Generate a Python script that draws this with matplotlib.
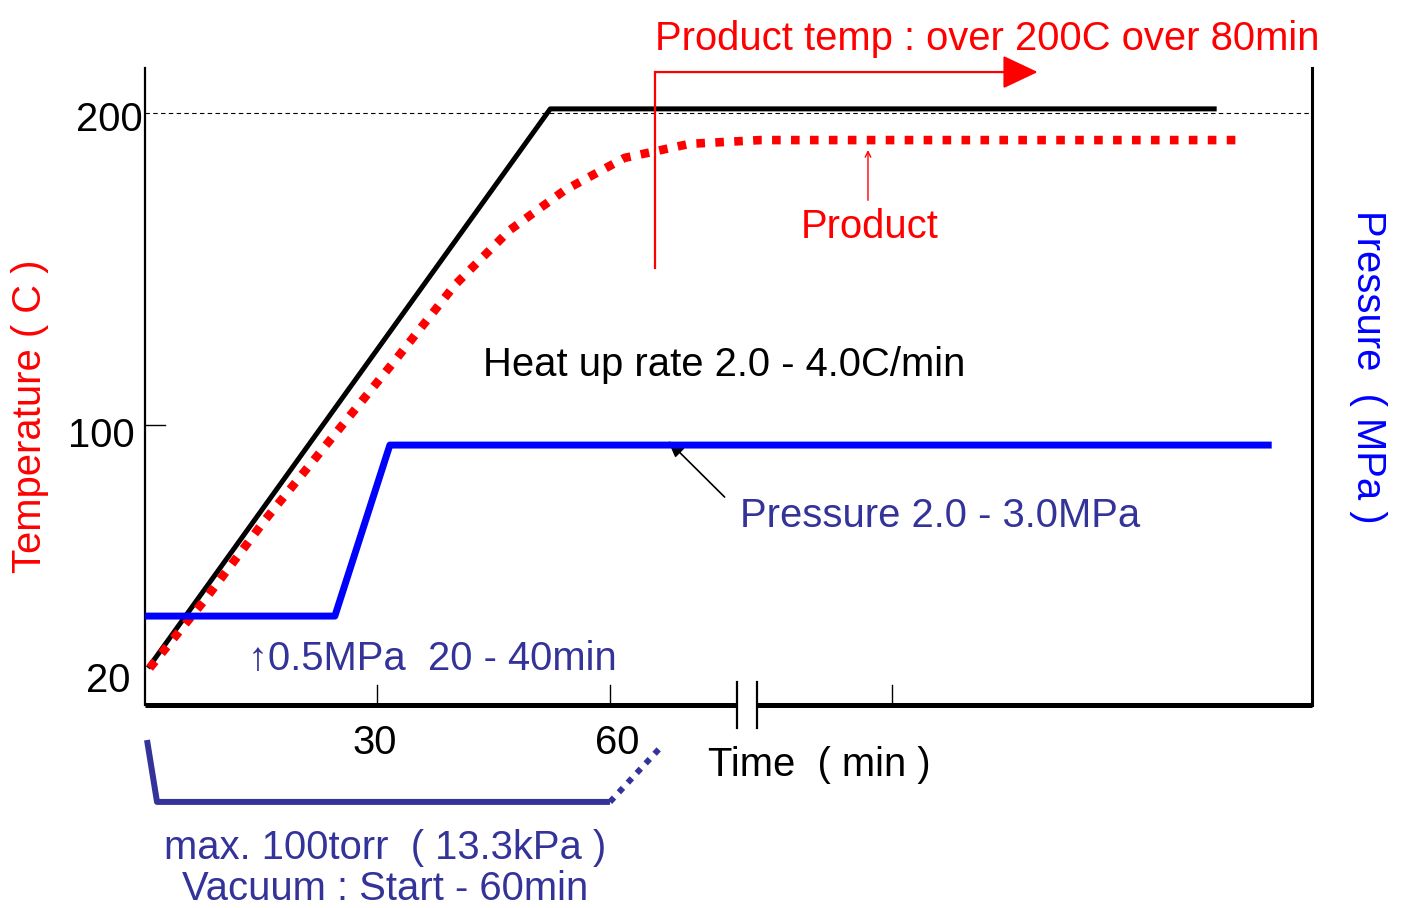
import matplotlib
matplotlib.use("Agg")
import matplotlib.pyplot as plt

plt.rcParams['font.family'] = ['Liberation Sans', 'DejaVu Sans']

# temperature profile (time in min, temperature in C)
heater_t = [0.4, 52.3, 138.3]
heater_T = [22.1, 201.3, 201.3]

product_t = [0.6, 7.7, 15.5, 23.9, 32.3, 40.0, 47.1, 54.2, 61.9, 70.3, 79.4, 141.3]
product_T = [22.1, 43.9, 69.6, 95.2, 120.8, 144.9, 162.5, 175.3, 185.6, 190.1, 191.3, 191.3]

# pressure profile (MPa)
press_t = [0, 24.5, 31.6, 145.4]
press_P = [0.5, 0.5, 2.5, 2.5]

# vacuum bracket (time, drawn below the axis)
vac_t = [0.26, 1.55, 60.0]
vac_y = [-0.96, -20.8, -20.8]
vac_end_t = [60.0, 66.8]
vac_end_y = [-20.8, -2.6]

x_ticks = [30, 60, 96.4]
x_break = [76.4, 79.0]

RED = '#ff0000'
BLUE = '#0000ff'
NAVY = '#333399'
FS = 28.8

W, H = 1401, 908
fig = plt.figure(figsize=(W / 100, H / 100), dpi=100)
ax = fig.add_axes([145 / W, (H - 705) / H, (1312 - 145) / W, (705 - 68) / H])
ax.set_xlim(0, 150.6)
ax.set_ylim(10.26, 214.4)
ax2 = ax.twinx()
ax2.set_ylim(-0.54, 6.91)

for a in (ax, ax2):
    a.set_xticks([]); a.set_yticks([])
    for s in a.spines.values():
        s.set_visible(False)
ax.spines['left'].set_visible(True)
ax.spines['left'].set_linewidth(1.6)
ax.spines['right'].set_visible(True)
ax.spines['right'].set_linewidth(2.2)

y0 = ax.get_ylim()[0]
# broken time axis
ax.plot([0, x_break[0]], [y0, y0], color='k', lw=3.6, clip_on=False, solid_capstyle='butt')
ax.plot([x_break[1], 150.6], [y0, y0], color='k', lw=3.6, clip_on=False, solid_capstyle='butt')
for xb in x_break:
    ax.plot([xb, xb], [17.6, 2.9], color='k', lw=1.6, clip_on=False)
for xt in x_ticks:
    ax.plot([xt, xt], [y0, y0 + 6.4], color='k', lw=1.0)
ax.plot([0, 2.6], [100, 100], color='k', lw=1.0)
ax.axhline(200, color='k', lw=0.8, ls=(0, (4, 3)))

ax.plot(heater_t, heater_T, color='k', lw=3.6, solid_capstyle='butt')
ax.plot(product_t, product_T, color=RED, lw=6.2, ls=(0, (1, 1.2)), dash_capstyle='butt')
ax2.plot(press_t, press_P, color=BLUE, lw=5, solid_capstyle='butt')

# vacuum bracket
ax.plot(vac_t, vac_y, color=NAVY, lw=4.3, clip_on=False, solid_capstyle='butt')
ax.plot(vac_end_t, vac_end_y, color=NAVY, lw=4.3, ls=(0, (1, 1.2)), clip_on=False)

# product temp arrow
ax.plot([65.8, 65.8], [150.3, 213.1], color=RED, lw=1.6, clip_on=False)
ax.annotate('', xy=(115.2, 213.1), xytext=(65.8, 213.1), annotation_clip=False,
            arrowprops=dict(arrowstyle='-|>,head_length=1.1,head_width=0.52', mutation_scale=20,
                            color=RED, lw=1.6, shrinkA=0, shrinkB=0))
ax.annotate('', xy=(93.3, 188.1), xytext=(93.3, 172), annotation_clip=False,
            arrowprops=dict(arrowstyle='->', color=RED, lw=1.0, shrinkA=0, shrinkB=0))
# pressure pointer
ax.annotate('', xy=(67.5, 94.9), xytext=(74.8, 76.9),
            arrowprops=dict(arrowstyle='-|>,head_length=0.5,head_width=0.2', mutation_scale=20,
                            color='k', lw=1.2, shrinkA=0, shrinkB=0))


def t(x, y, s, **kw):
    kw.setdefault('fontsize', FS)
    fig.text(x / W, 1 - y / H, s, **kw)


t(655, 50, 'Product temp : over 200C over 80min', color=RED, va='baseline')
t(801, 238, 'Product', color=RED, va='baseline')
t(483, 376, 'Heat up rate 2.0 - 4.0C/min', color='k', va='baseline')
t(740, 527, 'Pressure 2.0 - 3.0MPa', color=NAVY, va='baseline')
t(248, 670, '\u21910.5MPa  20 - 40min', color=NAVY, va='baseline')
t(375, 754, '30', color='k', ha='center', va='baseline')
t(617, 754, '60', color='k', ha='center', va='baseline')
t(708, 776, 'Time  ( min )', color='k', va='baseline')
t(385, 859, 'max. 100torr  ( 13.3kPa )', color=NAVY, ha='center', va='baseline')
t(385, 900, 'Vacuum : Start - 60min', color=NAVY, ha='center', va='baseline')
t(143, 131, '200', color='k', ha='right', va='baseline')
t(135, 447, '100', color='k', ha='right', va='baseline')
t(130, 692, '20', color='k', ha='right', va='baseline')
t(30, 416, 'Temperature ( C )', color=RED, rotation=90, ha='center', va='center')
t(1368, 367, 'Pressure  ( MPa )', color=BLUE, rotation=-90, ha='center', va='center')

fig.savefig('out.png', dpi=100)
